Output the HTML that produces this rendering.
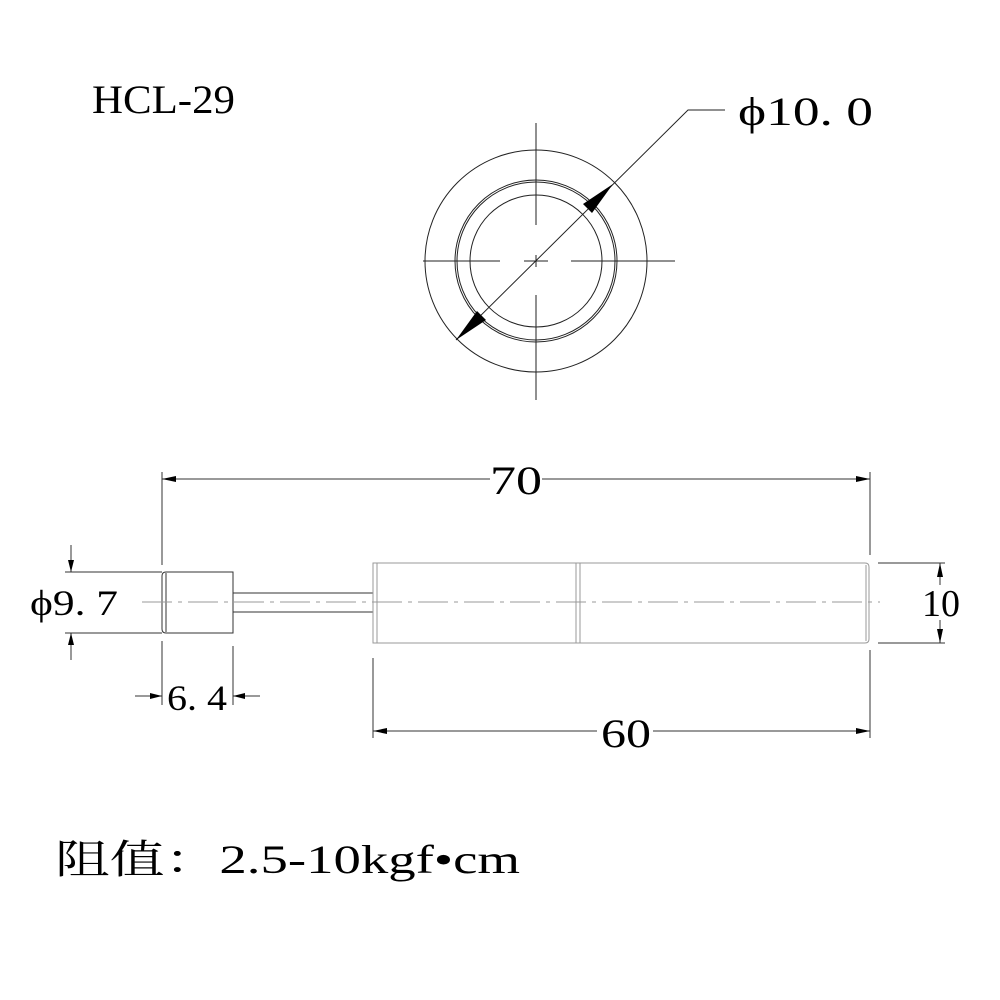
<!DOCTYPE html>
<html><head><meta charset="utf-8"><style>html,body{margin:0;padding:0;background:#fff}svg{display:block}</style></head>
<body>
<svg width="1000" height="1000" viewBox="0 0 1000 1000" xmlns="http://www.w3.org/2000/svg" font-family="'Liberation Serif','Noto Serif CJK SC',serif">
<rect width="1000" height="1000" fill="#fff"/>
<text x="92" y="113" font-size="40" textLength="143" lengthAdjust="spacingAndGlyphs">HCL-29</text>
<g fill="none" stroke="#222" stroke-width="1">
<circle cx="536" cy="261" r="111"/>
<circle cx="536" cy="261" r="81"/>
<circle cx="536" cy="261" r="79"/>
<circle cx="536" cy="261" r="66"/>
<line x1="536" y1="123" x2="536" y2="225"/>
<line x1="536" y1="255" x2="536" y2="267"/>
<line x1="536" y1="295" x2="536" y2="400"/>
<line x1="423" y1="261" x2="500" y2="261"/>
<line x1="524" y1="261" x2="548" y2="261"/>
<line x1="571" y1="261" x2="675" y2="261"/>
<polyline points="456,340 688,110 725,110"/>
</g>
<polygon points="613,184 583,204 592,213" fill="#000"/>
<polygon points="456,340 486,320 477,311" fill="#000"/>
<text x="738" y="125" font-size="40" textLength="135" lengthAdjust="spacingAndGlyphs">ϕ10. 0</text>
<g fill="none" stroke="#333" stroke-width="1">
<line x1="162" y1="472" x2="162" y2="565"/>
<line x1="870" y1="472" x2="870" y2="555"/>
<line x1="162" y1="479" x2="490" y2="479"/>
<line x1="542" y1="479" x2="870" y2="479"/>
<path d="M166 572 H233 V633 H166 Q162 633 162 629 V576 Q162 572 166 572 Z"/>
<line x1="166" y1="573" x2="166" y2="632"/>
<line x1="233" y1="593" x2="373" y2="593"/>
<line x1="233" y1="612" x2="373" y2="612"/>
<line x1="65" y1="572" x2="162" y2="572"/>
<line x1="65" y1="633" x2="162" y2="633"/>
<line x1="71" y1="545" x2="71" y2="572"/>
<line x1="71" y1="633" x2="71" y2="660"/>
<line x1="162" y1="641" x2="162" y2="705"/>
<line x1="233" y1="646" x2="233" y2="705"/>
<line x1="135" y1="696" x2="162" y2="696"/>
<line x1="233" y1="696" x2="260" y2="696"/>
</g>
<g fill="none" stroke="#999" stroke-width="1">
<path d="M373 563 H865 Q869 563 869 567 V639 Q869 643 865 643 H373 Z"/>
<line x1="377" y1="563" x2="377" y2="643"/>
<line x1="576" y1="563" x2="576" y2="643"/>
<line x1="580" y1="563" x2="580" y2="643"/>
<line x1="866" y1="565" x2="866" y2="641"/>
<line x1="142" y1="602" x2="880" y2="602" stroke-dasharray="30,6,4,6"/>
</g>
<g fill="none" stroke="#333" stroke-width="1">
<line x1="878" y1="563" x2="945" y2="563"/>
<line x1="878" y1="643" x2="945" y2="643"/>
<line x1="940" y1="563" x2="940" y2="585"/>
<line x1="940" y1="620" x2="940" y2="643"/>
<line x1="373" y1="658" x2="373" y2="738"/>
<line x1="870" y1="650" x2="870" y2="738"/>
<line x1="373" y1="731" x2="597" y2="731"/>
<line x1="653" y1="731" x2="870" y2="731"/>
</g>
<g fill="#000">
<polygon points="162,479 176,476 176,482"/>
<polygon points="870,479 856,476 856,482"/>
<polygon points="373,731 387,728 387,734"/>
<polygon points="870,731 856,728 856,734"/>
<polygon points="940,563 937,577 943,577"/>
<polygon points="940,643 937,629 943,629"/>
<polygon points="71,572 68,560 74,560"/>
<polygon points="71,633 68,645 74,645"/>
<polygon points="162,696 150,693 150,699"/>
<polygon points="233,696 245,693 245,699"/>
</g>
<text x="490" y="494" font-size="40" textLength="52" lengthAdjust="spacingAndGlyphs">70</text>
<text x="601" y="747" font-size="40" textLength="50" lengthAdjust="spacingAndGlyphs">60</text>
<text x="922" y="616" font-size="38" textLength="38" lengthAdjust="spacingAndGlyphs">10</text>
<text x="30" y="615" font-size="36" textLength="88" lengthAdjust="spacingAndGlyphs">ϕ9. 7</text>
<text x="167" y="710" font-size="36" textLength="60" lengthAdjust="spacingAndGlyphs">6. 4</text>
<text x="55" y="873" font-size="40" textLength="465" lengthAdjust="spacingAndGlyphs">阻值：2.5-10kgf•cm</text>
</svg>
</body></html>
